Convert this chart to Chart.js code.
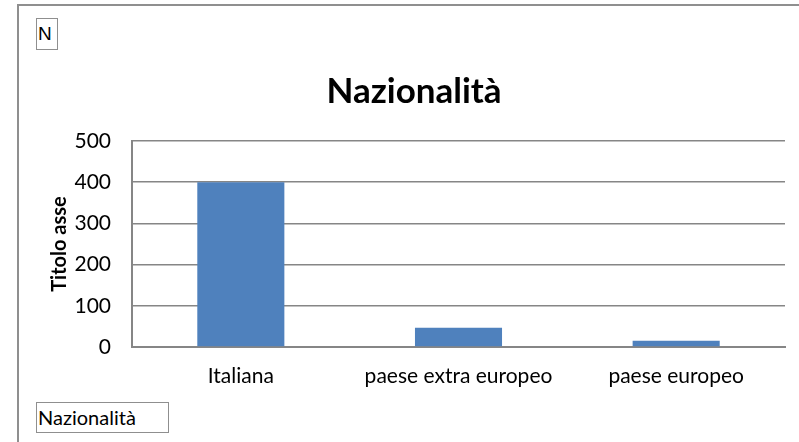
<!DOCTYPE html>
<html>
<head>
<meta charset="utf-8">
<script src="https://cdn.jsdelivr.net/npm/chart.js@4"></script>
<style>
  body { margin: 0; background: #fff; }
  #wrap { position: relative; width: 799px; height: 442px; overflow: hidden; }
  #frame { position: absolute; left: 17px; top: 4px; width: 800px; height: 460px;
           border-left: 2px solid #8f8f8f; border-top: 2px solid #8f8f8f; }
  canvas { position: absolute; left: 0; top: 0; }
  .box { position: absolute; border: 1px solid #8f8f8f; background: #fff; color: #000; }
  #boxN { left: 36px; top: 18px; width: 19px; height: 30px; font: 19px "Liberation Sans", Arial, sans-serif;
          line-height: 30px; padding-left: 1px; }
  #boxLeg { left: 36px; top: 402px; width: 130px; height: 29px; font: 20px Lato, sans-serif;
            line-height: 29px; padding-left: 1px; }
</style>
</head>
<body>
<div id="wrap">
  <div id="frame"></div>
  <canvas id="grafico" width="799" height="442"></canvas>
  <div class="box" id="boxN">N</div>
  <div class="box" id="boxLeg">Nazionalità</div>
</div>
<script>
let categorie = ["Italiana", "paese extra europeo", "paese europeo"];
let valori = [400, 47, 15];
let tickY = [0, 100, 200, 300, 400, 500];

let ctx = document.getElementById("grafico");

new Chart(ctx, {
  type: "bar",
  data: {
    labels: categorie,
    datasets: [{
      label: "Nazionalità",
      data: valori,
      backgroundColor: "#4f81bd",
      barPercentage: 0.4,
      categoryPercentage: 1
    }]
  },
  options: {
    responsive: false,
    animation: false,
    layout: { padding: { left: 43, right: 14, top: 0, bottom: 0 } },
    plugins: {
      legend: { display: false },
      tooltip: { enabled: false },
      title: {
        display: true,
        text: "Nazionalità",
        color: "#000",
        font: { family: "Lato", size: 35, weight: "bold" },
        padding: { top: 71, bottom: 28 }
      }
    },
    scales: {
      x: {
        grid: { display: false, drawTicks: false },
        border: { color: "#868686", width: 2 },
        ticks: { color: "#000", font: { family: "Lato", size: 21 }, padding: 17, maxRotation: 0 },
        afterFit: function (scale) { scale.height = 95; }
      },
      y: {
        min: 0,
        max: 500,
        afterBuildTicks: function (scale) { scale.ticks = tickY.map(v => ({ value: v })); },
        grid: { color: "#868686", lineWidth: 1.5, drawTicks: false },
        border: { color: "#868686", width: 2 },
        ticks: { color: "#000", font: { family: "Lato", size: 21 }, padding: 21 },
        title: {
          display: true,
          text: "Titolo asse",
          color: "#000",
          font: { family: "Lato", size: 20, weight: "bold" },
          padding: { top: 5, bottom: 0 }
        },
        afterFit: function (scale) { scale.width = 89; }
      }
    }
  }
});
</script>
</body>
</html>
